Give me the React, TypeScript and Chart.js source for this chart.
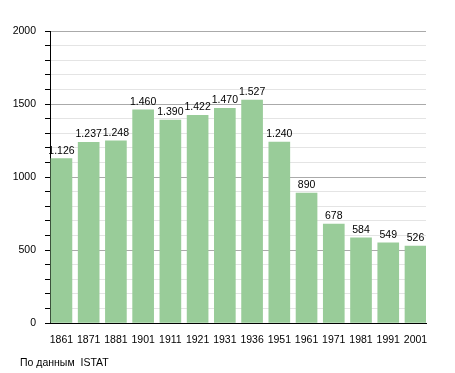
import React, { useEffect, useRef } from "react";
import { Chart, registerables } from "chart.js";

Chart.register(...registerables);

const years = ["1861", "1871", "1881", "1901", "1911", "1921", "1931", "1936", "1951", "1961", "1971", "1981", "1991", "2001"];
const population = [1126, 1237, 1248, 1460, 1390, 1422, 1470, 1527, 1240, 890, 678, 584, 549, 526];
const yTicks = [0, 500, 1000, 1500, 2000];
const sourceNote = "По данным  ISTAT";
const FONT = "'Liberation Sans', Arial, sans-serif";
const FS = 10.5;

function fmt(v: number): string {
  if (v < 1000) return String(v);
  const th = Math.floor(v / 1000);
  const rest = String(v % 1000).padStart(3, "0");
  return th + "." + rest;
}

const labelPlugin = {
  id: "barLabels",
  afterDatasetsDraw(chart: any) {
    const ctx = chart.ctx;
    const meta = chart.getDatasetMeta(0);
    ctx.save();
    ctx.font = `${FS}px ${FONT}`;
    ctx.fillStyle = "#000";
    ctx.textAlign = "center";
    ctx.textBaseline = "alphabetic";
    meta.data.forEach((el: any, i: number) => {
      ctx.fillText(fmt(population[i]), el.x, el.y - 5);
    });
    ctx.restore();
  },
  afterDraw(chart: any) {
    const ctx = chart.ctx;
    ctx.save();
    ctx.font = `${FS}px ${FONT}`;
    ctx.fillStyle = "#000";
    ctx.textAlign = "left";
    ctx.textBaseline = "alphabetic";
    ctx.fillText(sourceNote, 20, 366);
    ctx.restore();
  },
};

export default function App() {
  const ref = useRef<HTMLCanvasElement>(null);
  useEffect(() => {
    const chart = new Chart(ref.current!, {
      type: "bar",
      data: {
        datasets: [
          {
            data: population.map((v, i) => ({ x: i, y: v })),
            backgroundColor: "#99cc99",
            borderWidth: 0,
            barThickness: 21,
          },
        ],
      },
      options: {
        animation: false,
        responsive: false,
        maintainAspectRatio: false,
        layout: { padding: { left: 0, right: 29, top: 31, bottom: 30 } },
        plugins: { legend: { display: false }, tooltip: { enabled: false }, title: { display: false } },
        scales: {
          x: {
            type: "linear",
            offset: false,
            min: -0.42,
            max: years.length - 1 + 0.386,
            grid: { display: false, offset: false },
            border: { display: true, color: "#000", width: 1 },
            afterBuildTicks: (s: any) => {
              s.ticks = years.map((_, i) => ({ value: i }));
            },
            ticks: {
              color: "#000",
              font: { family: FONT, size: FS },
              padding: 3,
              maxRotation: 0,
              autoSkip: false,
              callback: (v: any) => years[Number(v)] ?? "",
            },
            afterFit: (s: any) => {
              s.height = 20;
            },
          },
          y: {
            min: 0,
            max: 2000,
            grid: {
              color: (c: any) => (c.tick && yTicks.includes(c.tick.value) ? "#aaaaaa" : "#e4e4e4"),
              tickColor: "#000",
              tickLength: 5,
              drawTicks: true,
            },
            border: { display: true, color: "#000", width: 1 },
            ticks: {
              stepSize: 100,
              autoSkip: false,
              color: "#000",
              padding: 9,
              font: { family: FONT, size: FS },
              callback: (v: any) => (yTicks.includes(Number(v)) ? String(v) : ""),
            },
            afterFit: (s: any) => {
              s.width = 50;
            },
          },
        },
      },
      plugins: [labelPlugin],
    });
    return () => chart.destroy();
  }, []);
  return (
    <div style={{ position: "fixed", left: 0, top: 0, width: 455, height: 373, background: "#fff" }}>
      <canvas ref={ref} width={455} height={373} style={{ width: 455, height: 373 }} />
    </div>
  );
}
